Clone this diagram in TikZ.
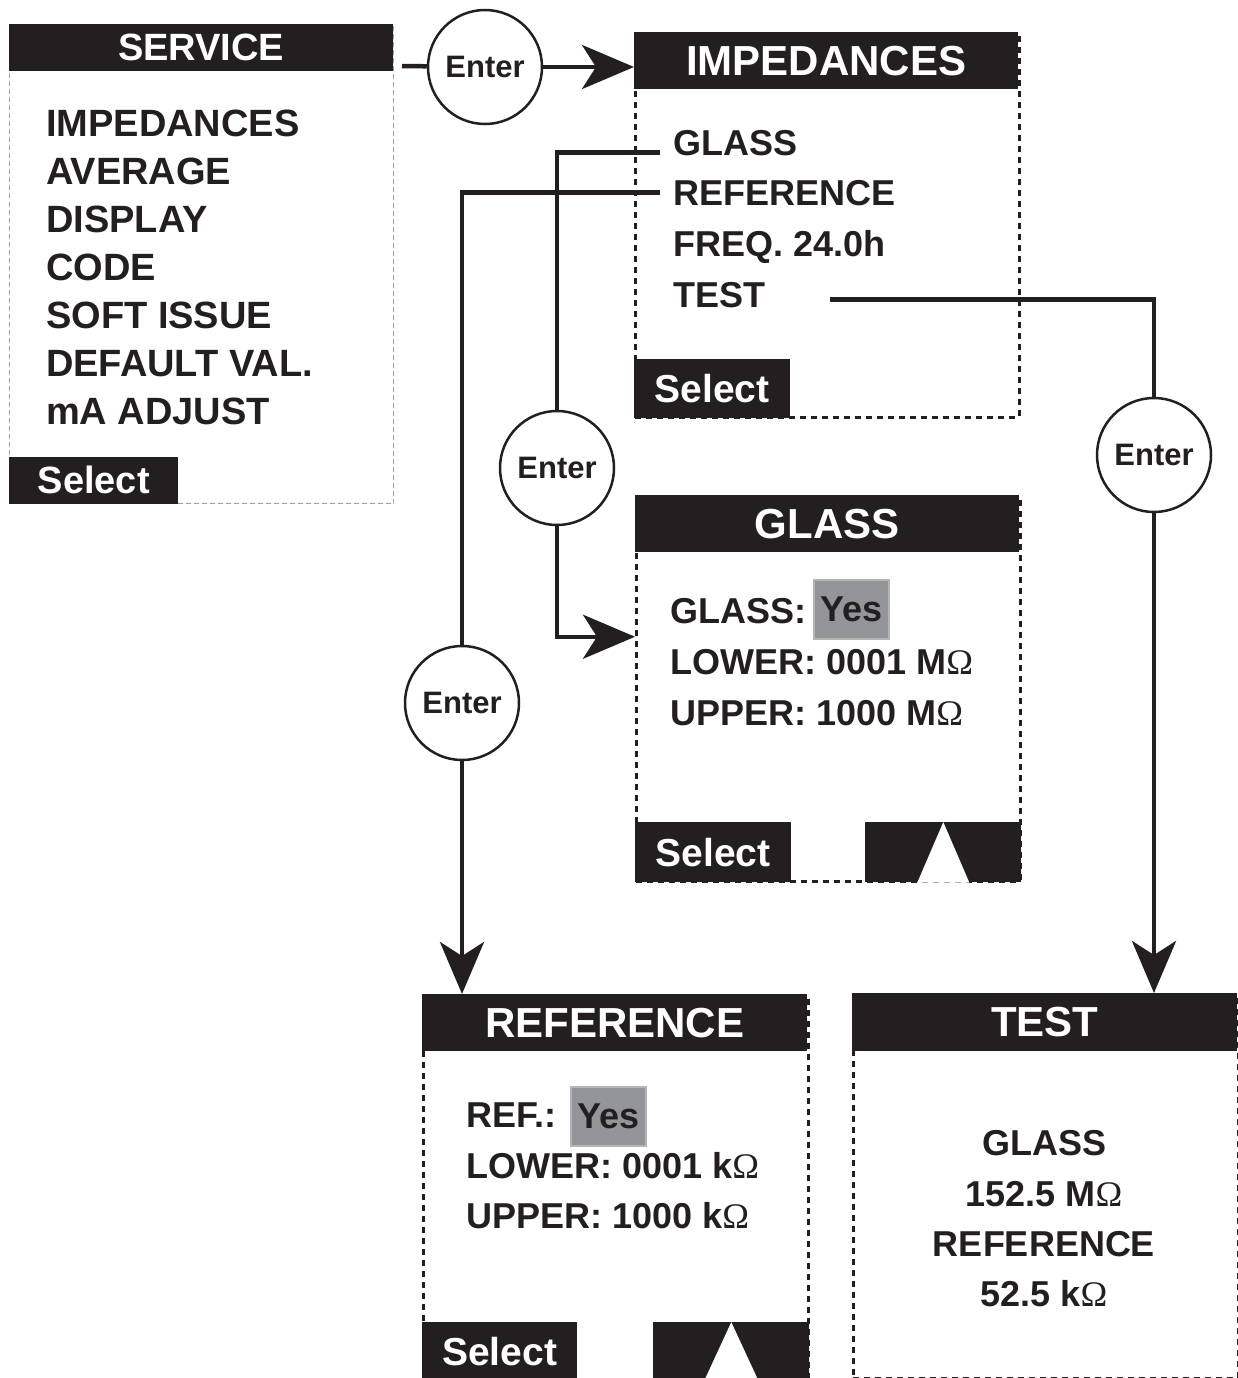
\documentclass[tikz,border=0pt]{standalone}
\usepackage{fontspec}
\setmainfont{Liberation Sans}
\newfontfamily\serifohm{Liberation Serif}
\usepackage{xcolor}
\usetikzlibrary{arrows.meta, positioning}
\definecolor{ink}{HTML}{231F20}
\definecolor{yesgray}{HTML}{939598}
\definecolor{yesedge}{HTML}{B3B5B7}
\newcommand{\ohmsym}{{\serifohm\mdseries Ω}}

\begin{document}
\begin{tikzpicture}[x=1pt, y=-1pt,
    screen/.style={draw=ink, line width=2.5pt, dash pattern=on 6pt off 5pt, minimum width=384pt, minimum height=384pt, anchor=north west, inner sep=0pt},
    bar/.style={fill=ink, text=white, inner sep=0pt, minimum height=57pt, anchor=north west, font=\fontsize{42}{42}\selectfont\bfseries},
    selbar/.style={fill=ink, text=white, inner sep=0pt, minimum width=156pt, minimum height=59pt, anchor=south west, font=\fontsize{39}{39}\selectfont\bfseries},
    upbar/.style={fill=ink, inner sep=0pt, minimum width=156pt, minimum height=59pt, anchor=south east},
    item/.style={anchor=base west, inner sep=0pt, text=ink, font=\fontsize{36}{36}\selectfont\bfseries},
    yesbox/.style={fill=yesgray, draw=yesedge, line width=1.5pt, text=ink, minimum width=75pt, minimum height=59pt, inner sep=0pt, font=\fontsize{36}{36}\selectfont\bfseries},
    enter/.style={circle, draw=ink, line width=2.5pt, fill=white, minimum size=114pt, inner sep=0pt, text=ink, font=\fontsize{31}{31}\selectfont\bfseries},
    link/.style={draw=ink, line width=4.5pt},
    golink/.style={link, -{Stealth[length=52pt, width=44pt, inset=14pt]}}]

\useasboundingbox (0,0) rectangle (1237,1378);

\node[screen, draw=gray!75, line width=1pt, dash pattern=on 5pt off 3pt, minimum height=479pt] (service) at (9,24) {};
\node[bar, minimum width=384pt, minimum height=47pt, font=\fontsize{38}{38}\selectfont\bfseries] (svctitle) at (service.north west) {SERVICE};
\foreach \txt [count=\i] in {IMPEDANCES, AVERAGE, DISPLAY, CODE, SOFT ISSUE, DEFAULT VAL., mA ADJUST}
  \node[item, font=\fontsize{38}{38}\selectfont\bfseries] (svc\i) at (46,88+48*\i) {\txt};
\node[selbar, minimum width=169pt, minimum height=47pt, font=\fontsize{38}{38}\selectfont\bfseries] (svcsel) at (service.south west) {Select};

\node[screen] (imp) at (634,32) {};
\node[bar, minimum width=384pt] (imptitle) at (imp.north west) {IMPEDANCES};
\node[item] (impglass) at (673,155) {GLASS};
\node[item] (impref) at (673,205) {REFERENCE};
\node[item] (impfreq) at (673,256) {FREQ. 24.0h};
\node[item] (imptest) at (673,307) {TEST};
\node[selbar] (impsel) at (imp.south west) {Select};

\node[screen, minimum height=385pt] (glass) at (635,495) {};
\node[bar, minimum width=384pt] (glasstitle) at (glass.north west) {GLASS};
\node[item] (glassset) at (670,623) {GLASS:};
\node[yesbox] (glassyes) at (851.5,609.5) {Yes};
\node[item] (glasslow) at (670,674) {LOWER: 0001 M\ohmsym};
\node[item] (glassupp) at (670,725) {UPPER: 1000 M\ohmsym};
\node[selbar, minimum height=60pt] (glasssel) at (glass.south west) {Select};
\node[upbar, minimum height=60pt] (glassup) at (glass.south east) {};
\fill[white] (glassup.north) -- ([xshift=26pt]glassup.south) -- ([xshift=-26pt]glassup.south) -- cycle;

\node[screen, minimum width=385pt] (ref) at (422,994) {};
\node[bar, minimum width=385pt] (reftitle) at (ref.north west) {REFERENCE};
\node[item] (refset) at (466,1127) {REF.:};
\node[yesbox] (refyes) at (608.5,1116.5) {Yes};
\node[item] (reflow) at (466,1178) {LOWER: 0001 k\ohmsym};
\node[item] (refupp) at (466,1228) {UPPER: 1000 k\ohmsym};
\node[selbar, minimum width=155pt, minimum height=58pt] (refsel) at (ref.south west) {Select};
\node[upbar, minimum height=58pt] (refup) at (ref.south east) {};
\fill[white] (refup.north) -- ([xshift=27pt]refup.south) -- ([xshift=-27pt]refup.south) -- cycle;

\node[screen, minimum width=385pt] (test) at (852,993) {};
\node[bar, minimum width=385pt, minimum height=58pt] (testtitle) at (test.north west) {TEST};
\node[item, anchor=base] (testglass) at (1044,1155) {GLASS};
\node[item, anchor=base] (testgval) at (1044,1206) {152.5 M\ohmsym};
\node[item, anchor=base] (testref) at (1044,1256) {REFERENCE};
\node[item, anchor=base] (testrval) at (1044,1306) {52.5 k\ohmsym};

\node[enter] (enterimp) at (485,67) {Enter};
\node[enter] (enterglass) at (557,468) {Enter};
\node[enter] (enterref) at (462,703) {Enter};
\node[enter] (entertest) at (1154,455) {Enter};

\coordinate (svcout) at (402,66);
\draw[link] (svcout) -- (enterimp);
\draw[golink] (enterimp) -- (enterimp -| imp.west);

\draw[link] ([xshift=-13pt, yshift=-10pt]impglass.west) -| (enterglass);
\draw[golink] (enterglass) |- ([yshift=52pt]glass.west);

\draw[link] ([xshift=-13pt]impref.west) -| (enterref);
\draw[golink] (enterref) -- (enterref |- ref.north);

\draw[link] ([xshift=65pt, yshift=-5pt]imptest.east) -| (entertest);
\draw[golink] (entertest) -- (entertest |- test.north);
\end{tikzpicture}
\end{document}
